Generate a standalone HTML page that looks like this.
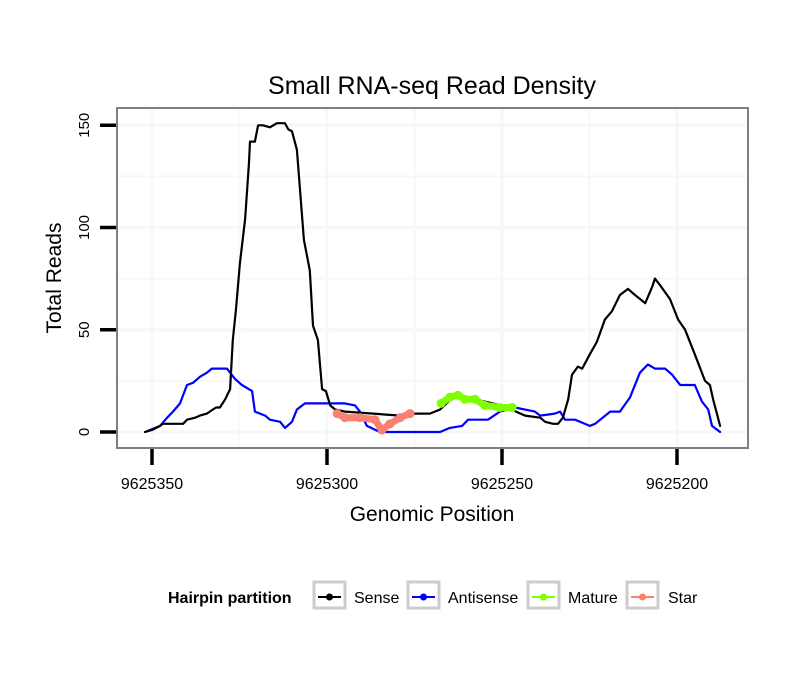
<!DOCTYPE html>
<html><head><meta charset="utf-8"><style>
body{margin:0;background:#fff;}
svg text{font-family:"Liberation Sans",sans-serif;}
</style></head><body>
<svg id="chart" width="810" height="690" xmlns="http://www.w3.org/2000/svg">
<rect width="810" height="690" fill="#fff"/>
<text x="432" y="94" font-size="25" text-anchor="middle">Small RNA-seq Read Density</text>
<g id="grid"></g>
<g id="series"></g>
<rect x="117" y="108" width="631" height="340" fill="none" stroke="#7f7f7f" stroke-width="2"/>
<g id="axes"></g>
<text x="432" y="521" font-size="21" text-anchor="middle">Genomic Position</text>
<text transform="translate(61,278) rotate(-90)" font-size="21" text-anchor="middle">Total Reads</text>
<g>
<text x="168" y="603" font-size="16" font-weight="bold">Hairpin partition</text>
<g><rect x="314" y="582" width="31" height="26" fill="#fff" stroke="#ccc" stroke-width="3"/><line x1="318" y1="597" x2="341" y2="597" stroke="#000" stroke-width="2"/><circle cx="329.5" cy="597" r="3.5" fill="#000"/><text x="354" y="603" font-size="16">Sense</text></g>
<g><rect x="408" y="582" width="31" height="26" fill="#fff" stroke="#ccc" stroke-width="3"/><line x1="412" y1="597" x2="435" y2="597" stroke="#0000ff" stroke-width="2"/><circle cx="423.5" cy="597" r="3.5" fill="#0000ff"/><text x="448" y="603" font-size="16">Antisense</text></g>
<g><rect x="528" y="582" width="31" height="26" fill="#fff" stroke="#ccc" stroke-width="3"/><line x1="532" y1="597" x2="555" y2="597" stroke="#7fff00" stroke-width="2"/><circle cx="543.5" cy="597" r="3.5" fill="#7fff00"/><text x="568" y="603" font-size="16">Mature</text></g>
<g><rect x="627" y="582" width="31" height="26" fill="#fff" stroke="#ccc" stroke-width="3"/><line x1="631" y1="597" x2="654" y2="597" stroke="#fa8072" stroke-width="2"/><circle cx="642.5" cy="597" r="3.5" fill="#fa8072"/><text x="668" y="603" font-size="16">Star</text></g>
</g>
</svg>
<script>
const xTicks=[9625350,9625300,9625250,9625200];
const xMinor=[9625325,9625275,9625225];
const yTicks=[0,50,100,150];
const yMinor=[25,75,125];
const sensePos=[9625352,9625350,9625347.7,9625346.9,9625341.1,9625340,9625337.7,9625336.3,9625334.3,9625332.6,9625331.7,9625330.6,9625329.1,9625327.7,9625326.9,9625326,9625324.9,9625323.4,9625322.3,9625322,9625320.6,9625319.7,9625318.3,9625316.3,9625314.3,9625312,9625311.1,9625310,9625308.6,9625306.6,9625304.9,9625304,9625302.6,9625301.4,9625300.3,9625299.1,9625297.7,9625294.9,9625279.1,9625276,9625273.4,9625270.6,9625267.7,9625263.4,9625257.7,9625247.7,9625246,9625243.4,9625239.1,9625237.7,9625235.4,9625234,9625232.6,9625231.1,9625230,9625228.3,9625227.1,9625224.9,9625222.9,9625220.6,9625218.6,9625216.3,9625214,9625212,9625209.1,9625207.1,9625206.3,9625204.9,9625202,9625199.7,9625197.7,9625194.9,9625192,9625190.6,9625189.7,9625187.7];
const senseReads=[0,1,3,4,4,6,7,8,9,11,12,12,16,21,45,60,82,104,131,142,142,150,150,149,151,151,148,147,138,94,79,52,45,21,20,13,11,10,8,9,9,9,11,18,16,12,10,8,7,5,4,4,7,16,28,32,31,38,44,55,59,67,70,67,63,71,75,72,65,55,50,38,25,23,16,3];
const antiPos=[9625352,9625347.7,9625345.7,9625344,9625342,9625340,9625338.3,9625336.3,9625334.3,9625332.9,9625328.6,9625326.3,9625324.3,9625321.4,9625320.6,9625317.7,9625316.3,9625313.4,9625312,9625310,9625308.6,9625306.3,9625302,9625294.9,9625292,9625290.6,9625288.6,9625284.9,9625267.7,9625264.9,9625261.4,9625259.7,9625254,9625250.6,9625246.3,9625240.6,9625239.1,9625234.9,9625233.4,9625232,9625229.1,9625224.9,9625223.4,9625219.1,9625216.3,9625213.4,9625210.6,9625208.3,9625206.3,9625203.4,9625201.4,9625199.1,9625194.9,9625192.9,9625191.1,9625190,9625187.7];
const antiReads=[0,3,7,10,14,23,24,27,29,31,31,26,23,20,10,8,6,5,2,5,11,14,14,14,13,10,3,0,0,2,3,6,6,10,12,10,8,9,10,6,6,3,4,10,10,17,29,33,31,31,28,23,23,15,11,3,0];
const starPos=[9625297.1,9625294.9,9625290.6,9625286.3,9625284.3,9625282,9625279.1,9625276.3];
const starReads=[9,7,7,6,1,4,7,9];
const maturePos=[9625267.4,9625264.9,9625262.6,9625260.6,9625257.7,9625254.9,9625250.6,9625247.1];
const matureReads=[14,17,18,16,16,13,12,12];

const NS="http://www.w3.org/2000/svg";
function X(p){return 152+(9625350-p)*3.5;}
function Y(v){return 432-v*2.045;}
function mk(tag,attrs,parent){const e=document.createElementNS(NS,tag);for(const k in attrs)e.setAttribute(k,attrs[k]);document.getElementById(parent).appendChild(e);return e;}
xMinor.concat(xTicks).forEach(t=>{const l=mk('line',{x1:X(t),x2:X(t),y1:109,y2:447,stroke:'#f7f7f7','stroke-width':xTicks.includes(t)?3:2},'grid');

});
yMinor.concat(yTicks).forEach(t=>{const l=mk('line',{x1:118,x2:747,y1:Y(t),y2:Y(t),stroke:'#f7f7f7','stroke-width':yTicks.includes(t)?3:2},'grid');

});
xTicks.forEach(t=>{const l=mk('line',{x1:X(t),x2:X(t),y1:449,y2:465,stroke:'#000','stroke-width':3.5},'axes');


const tx=mk('text',{x:X(t),y:489,'font-size':16,'text-anchor':'middle'},'axes');tx.textContent=t;

});
yTicks.forEach(t=>{const l=mk('line',{x1:100,x2:116,y1:Y(t),y2:Y(t),stroke:'#000','stroke-width':3.5},'axes');


const tx=mk('text',{transform:`translate(89,${Y(t)}) rotate(-90)`,'font-size':15,'text-anchor':'middle'},'axes');tx.textContent=t;

});
function line(pos,vals,color,w,name){const d=pos.map((p,i)=>(i?'L':'M')+X(p).toFixed(1)+','+Y(vals[i]).toFixed(1)).join('');
const pth=mk('path',{d:d,fill:'none',stroke:color,'stroke-width':w,'stroke-linejoin':'round','stroke-linecap':'round'},'series');

}
function dots(pos,vals,color,name){pos.forEach((p,i)=>{const c=mk('circle',{cx:X(p),cy:Y(vals[i]),r:4.5,fill:color},'series');

});}
line(antiPos,antiReads,'#0000ff',2.2,'antisense-line');
line(sensePos,senseReads,'#000',2.2,'sense-line');
line(starPos,starReads,'#fa8072',7,'star-line');
dots(starPos,starReads,'#fa8072','star-point');
line(maturePos,matureReads,'#7fff00',7,'mature-line');
dots(maturePos,matureReads,'#7fff00','mature-point');
</script>
</body></html>
